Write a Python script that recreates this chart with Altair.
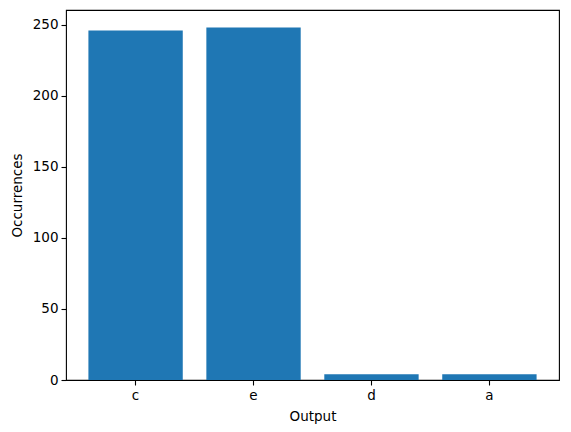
import altair as alt
import pandas as pd

categories = ["c", "e", "d", "a"]
occurrences = [246, 248, 4, 4]

df = pd.DataFrame({"Output": categories, "Occurrences": occurrences})

chart = alt.Chart(df).mark_bar(color="#1f77b4", strokeWidth=0).encode(
    x=alt.X("Output:N", sort=categories,
            scale=alt.Scale(paddingInner=0.2, paddingOuter=0.19),
            axis=alt.Axis(labelAngle=0, title="Output", titlePadding=8)),
    y=alt.Y("Occurrences:Q",
            scale=alt.Scale(domain=[0, 260.4], nice=False, zero=True),
            axis=alt.Axis(values=[0, 50, 100, 150, 200, 250], title="Occurrences",
                          titlePadding=8)),
).properties(
    width=493, height=370,
    autosize=alt.AutoSizeParams(type="none"),
    padding={"left": 58, "top": 2, "right": 4, "bottom": 45},
).configure_view(
    stroke="black", strokeWidth=1.1
).configure_axis(
    grid=False,
    domain=False,
    tickColor="black",
    tickSize=5,
    tickWidth=1.1,
    labelFont="DejaVu Sans",
    labelFontSize=13.5,
    labelColor="black",
    labelPadding=3,
    titleFont="DejaVu Sans",
    titleFontSize=13.5,
    titleFontWeight="normal",
    titleColor="black",
)

chart.save("out.html", embed_options={"renderer": "svg", "actions": False})
